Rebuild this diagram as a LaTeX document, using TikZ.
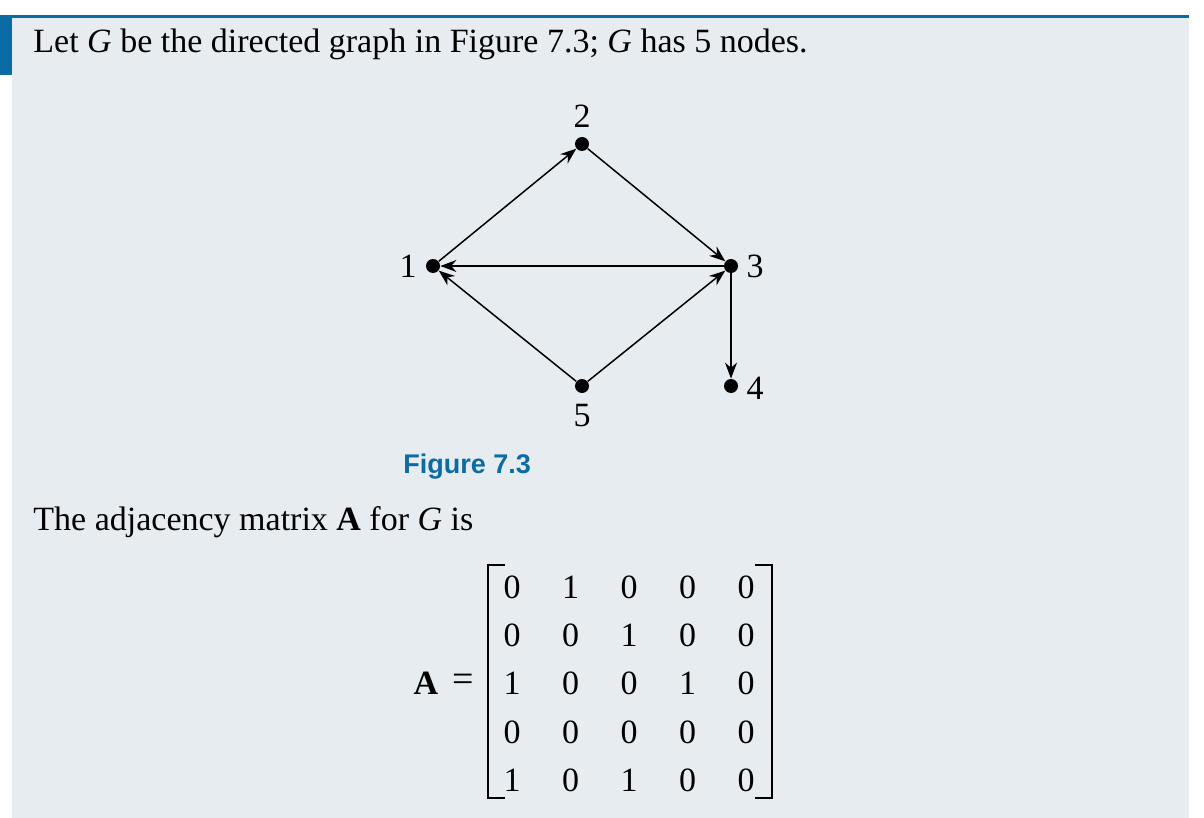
\documentclass[tikz,border=0pt]{standalone}
\usepackage{fontspec}
\setmainfont{Liberation Serif}
\newfontfamily\capfont{Liberation Sans}
\usetikzlibrary{arrows.meta}
\definecolor{panelbg}{HTML}{E7ECF0}
\definecolor{barblue}{HTML}{0A6BA5}
\tikzset{
  vtx/.style={circle,fill=black,inner sep=0pt,minimum size=7pt},
  arc/.style={-{Stealth[length=8pt,width=6pt,inset=2.6pt]},line width=0.75pt},
  lbl/.style={inner sep=0pt,font=\fontsize{17}{20}\selectfont},
  txt/.style={lbl,anchor=base west},
  brk/.style={line width=1.3pt}
}
\begin{document}
\begin{tikzpicture}[x=0.5pt,y=-0.5pt]
  \useasboundingbox (0,0) rectangle (1204,818);
  % panel and blue rules
  \fill[panelbg] (12,18) rectangle (1189,818);
  \fill[barblue] (0,15) rectangle (1189,18.5);
  \fill[barblue] (0,15) rectangle (12,75);
  % texts
  \node[txt] (intro) at (33,53) {Let \textit{G} be the directed graph in Figure 7.3; \textit{G} has 5 nodes.};
  \node[inner sep=0pt,anchor=base west,font=\capfont\bfseries\fontsize{13.5}{16}\selectfont,text=barblue] (cap) at (403,473) {Figure 7.3};
  \node[txt] (lead) at (33,530) {The adjacency matrix \textbf{A} for \textit{G} is};
  % graph
  \node[vtx] (v1) at (433,266) {};
  \node[vtx] (v2) at (582,144) {};
  \node[vtx] (v3) at (731,266) {};
  \node[vtx] (v4) at (731,386) {};
  \node[vtx] (v5) at (582,386) {};
  \node[lbl] (l1) at (408,266) {1};
  \node[lbl] (l2) at (582,116) {2};
  \node[lbl] (l3) at (755,266) {3};
  \node[lbl] (l4) at (755,388) {4};
  \node[lbl] (l5) at (582,416) {5};
  \draw[arc] (v1) -- (v2);
  \draw[arc] (v2) -- (v3);
  \draw[arc] (v3) -- (v1);
  \draw[arc] (v5) -- (v1);
  \draw[arc] (v5) -- (v3);
  \draw[arc] (v3) -- (v4);
  % adjacency matrix
  \node[lbl,font=\bfseries\fontsize{17}{20}\selectfont] (lhsA) at (426,683) {A};
  \node[lbl,font=\fontsize{19}{20}\selectfont] (eq) at (463,683) {=};
  \foreach \row [count=\i] in {{0,1,0,0,0},{0,0,1,0,0},{1,0,0,1,0},{0,0,0,0,0},{1,0,1,0,0}}
    \foreach \v [count=\j] in \row
      \node[lbl] (m\i\j) at ({512+58.5*(\j-1)},{587+48.3*(\i-1)}) {\v};
  \draw[brk] (505,565) -- (488,565) -- (488,798) -- (505,798);
  \draw[brk] (755,565) -- (772,565) -- (772,798) -- (755,798);
\end{tikzpicture}
\end{document}
